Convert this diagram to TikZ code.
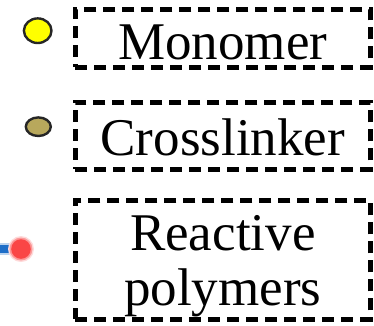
\documentclass[tikz,border=0pt]{standalone}
\usepackage{fontspec}
\setmainfont{Liberation Serif}
\newfontfamily\legendserif{Liberation Serif}
\definecolor{monoyellow}{RGB}{255,255,0}
\definecolor{linkolive}{RGB}{184,168,92}
\definecolor{polyred}{RGB}{250,70,70}
\definecolor{polyblue}{RGB}{30,110,200}
\tikzset{
  legendbox/.style={draw=black, line width=4.6pt, dash pattern=on 12pt off 7pt,
    anchor=north west, inner sep=0pt, text width=295pt, align=center,
    font=\legendserif\fontsize{53}{55}\selectfont},
  marker/.style={draw=black!85, line width=2.4pt}
}
\begin{document}
\begin{tikzpicture}[x=1pt,y=-1pt]
  \useasboundingbox (0,0) rectangle (374,325);

  % legend markers
  \draw[marker, fill=monoyellow] (37.7,30.7) ellipse (13.8 and 12.3);
  \draw[marker, fill=linkolive] (38.3,126.7) ellipse (12.5 and 9.3);

  % polymer chain end, soft edges
  \draw[polyblue!30, line width=12pt] (0,249) -- (14,249);
  \draw[polyblue, line width=8pt] (0,249) -- (14,249);
  \fill[polyred!20] (21,249) circle (13);
  \fill[polyred!55] (21,249) circle (11.5);
  \fill[polyred] (21,249) circle (9.8);

  % legend labels
  \node[legendbox, text height=50pt, text depth=8pt] (mono) at (73,7) {Monomer};
  \node[legendbox, text height=53pt, text depth=14pt] (cross) at (73,100) {Crosslinker};
  \node[legendbox, text height=50pt, text depth=69pt] (react) at (73,198) {Reactive\\polymers};
\end{tikzpicture}
\end{document}
